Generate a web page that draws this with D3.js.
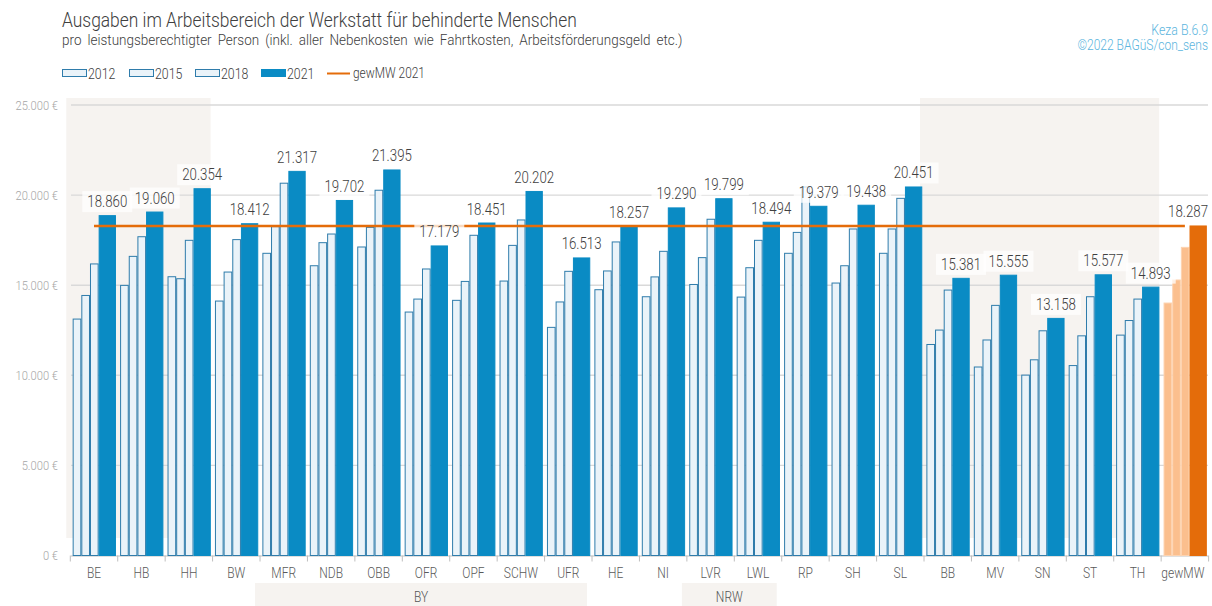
<!DOCTYPE html>
<html>
<head>
<meta charset="utf-8">
<script src="https://cdn.jsdelivr.net/npm/d3@7"></script>
<style>
  body { margin: 0; background: #fff; }
  svg text { font-family: Roboto, "Liberation Sans", sans-serif; font-weight: 300; }
</style>
</head>
<body>
<div id="graph"></div>
<script>
// data
var categories = ["BE","HB","HH","BW","MFR","NDB","OBB","OFR","OPF","SCHW","UFR","HE","NI","LVR","LWL","RP","SH","SL","BB","MV","SN","ST","TH","gewMW"];
var years = ["2012","2015","2018","2021"];
var v2012 = [13120,14990,15470,14120,16770,16080,17120,13510,14160,15230,12660,14750,14360,15040,14340,16770,15120,16770,11710,10460,10010,10540,12230,14010];
var v2015 = [14430,16600,15360,15730,18250,17360,18210,14230,15210,17210,14070,15790,15460,16530,15970,17930,16080,18120,12510,11960,10860,12190,13040,15290];
var v2018 = [16180,17690,17490,17530,20660,17840,20270,15900,17770,18620,15770,17400,16880,18660,17490,20450,18120,19820,14730,13880,12470,14360,14230,17100];
var v2021 = [18860,19060,20354,18412,21317,19702,21395,17179,18451,20202,16513,18257,19290,19799,18494,19379,19438,20451,15381,15555,13158,15577,14893,18287];
var mean2021 = 18287;
var meanLabel = "gewMW 2021";
var yTicks = [0, 5000, 10000, 15000, 20000, 25000];
var shadeGroups = [["BE","HH"], ["BB","TH"]];
var regionGroups = [
  { label: "BY",  from: "MFR", to: "UFR" },
  { label: "NRW", from: "LVR", to: "LWL" }
];

var W = 1212, H = 606;
var svg = d3.select("#graph").append("svg")
  .attr("width", W).attr("height", H);

var de = d3.formatLocale({ decimal: ",", thousands: ".", grouping: [3], currency: ["", " €"] });
var fmt = de.format(",d");

// squeeze text horizontally (the original uses a condensed font)
function condense(sel, k) {
  sel.each(function() {
    var t = d3.select(this);
    var x0 = +t.attr("x") || 0;
    t.attr("x", 0).attr("transform", `translate(${x0},0) scale(${k},1)`);
  });
}

// scales
var x = d3.scaleBand().domain(categories).range([70.3, 1208.6]);
var y = d3.scaleLinear().domain([0, 25000]).range([555.5, 105]);
var step = x.step();
var inner = step * 0.913;
var off = (step - inner) / 2 + 0.3;
var unit = inner / 5;
var slotStart = [0, 1, 2, 3], slotWidth = [1, 1, 1, 2];
var series = [v2012, v2015, v2018, v2021];

// shaded backgrounds
svg.append("g").selectAll("rect")
  .data(shadeGroups)
  .enter().append("rect")
    .attr("x", d => x(d[0]) - 4)
    .attr("y", 98)
    .attr("width", d => x(d[1]) + step - x(d[0]) + 2)
    .attr("height", 440)
    .attr("fill", "#f6f3f0");

// region boxes at bottom
var regG = svg.append("g").selectAll("g")
  .data(regionGroups)
  .enter().append("g");
regG.append("rect")
  .attr("x", d => x(d.from) - 5)
  .attr("y", 583)
  .attr("width", d => x(d.to) + step - x(d.from))
  .attr("height", 23)
  .attr("fill", "#f6f3f0");
regG.append("text")
  .attr("x", d => x(d.from) - 5 + (x(d.to) + step - x(d.from)) / 2)
  .attr("y", 602)
  .attr("text-anchor", "middle")
  .style("font-size", "15px")
  .attr("fill", "#555")
  .text(d => d.label)
  .call(condense, 0.8);

// grid + y axis
svg.append("g").selectAll("line")
  .data(yTicks.filter(t => t > 0))
  .enter().append("line")
    .attr("x1", 71).attr("x2", 1208)
    .attr("y1", d => y(d)).attr("y2", d => y(d))
    .attr("stroke", "#d9d9d9").attr("stroke-width", 1.4);

var yAxisG = svg.append("g")
  .attr("transform", "translate(60,0)")
  .call(d3.axisLeft(y).tickValues(yTicks).tickSize(0).tickFormat(d => fmt(d) + " €"));
yAxisG.select(".domain").remove();
yAxisG.selectAll("text")
  .attr("x", -2)
  .style("font-size", "13px")
  .attr("fill", "#a6a6a6")
  .call(condense, 0.86);

// x axis baseline, separators, labels
svg.append("line")
  .attr("x1", 71).attr("x2", 1208)
  .attr("y1", y(0) + 0.5).attr("y2", y(0) + 0.5)
  .attr("stroke", "#bfbfbf").attr("stroke-width", 1.2);
svg.append("g").selectAll("line")
  .data(categories.concat(["end"]))
  .enter().append("line")
    .attr("x1", d => d === "end" ? x.range()[1] : x(d))
    .attr("x2", d => d === "end" ? x.range()[1] : x(d))
    .attr("y1", y(0)).attr("y2", y(0) + 6)
    .attr("stroke", "#bfbfbf");
var xAxisG = svg.append("g")
  .attr("transform", `translate(0, ${y(0)})`)
  .call(d3.axisBottom(x).tickSize(0));
xAxisG.select(".domain").remove();
xAxisG.selectAll("text")
  .attr("y", 12)
  .attr("x", d => d === "gewMW" ? -2 : 0)
  .style("font-size", "15px")
  .style("font-family", null)
  .attr("fill", "#595959")
  .call(condense, 0.8);

// bars
var isMean = c => c === "gewMW";
series.forEach(function(vals, si) {
  svg.append("g").selectAll("rect")
    .data(categories.map((c, i) => ({ c: c, v: vals[i] })))
    .enter().append("rect")
      .attr("x", d => x(d.c) + off + slotStart[si] * unit + 0.5)
      .attr("y", d => y(d.v))
      .attr("width", slotWidth[si] * unit - 1)
      .attr("height", d => y(0) - y(d.v))
      .attr("fill", d => isMean(d.c) ? (si === 3 ? "#e46c0a" : "#fbbf8e")
                                     : (si === 3 ? "#0a8bc4" : "#eaf3f9"))
      .attr("stroke", d => isMean(d.c) ? (si === 3 ? "#e46c0a" : "#fdd3b0")
                                       : (si === 3 ? "#0a8bc4" : "#2f7cab"))
      .attr("stroke-width", 1);
});

// mean line
svg.append("line")
  .attr("x1", x(categories[0]) + step / 2)
  .attr("x2", x(categories[categories.length - 1]) + step / 2)
  .attr("y1", y(mean2021)).attr("y2", y(mean2021))
  .attr("stroke", "#e46c0a").attr("stroke-width", 2.5);

// value labels for 2021: boxes first, then texts
var labels = categories.map((c, i) => ({ c: c, v: v2021[i] }));
var boxG = svg.append("g");
var txtG = svg.append("g");
var kLab = 0.78;
labels.forEach(function(d) {
  var cx = x(d.c) + off + 3 * unit + unit;
  var base = y(d.v) - 8.5;
  var t = txtG.append("text")
    .attr("y", base)
    .attr("text-anchor", "middle")
    .style("font-size", "17px")
    .attr("fill", "#404040")
    .text(fmt(d.v));
  var w = t.node().getComputedTextLength() * kLab;
  if (cx + w / 2 > 1208) cx = 1208 - w / 2;
  t.attr("x", cx).call(condense, kLab);
  boxG.append("rect")
    .attr("x", cx - w / 2 - 5)
    .attr("y", base - 16)
    .attr("width", w + 10)
    .attr("height", 21)
    .attr("fill", "#fff")
    .attr("fill-opacity", 0.75);
});

// titles
svg.append("text")
  .attr("x", 62).attr("y", 27)
  .style("font-size", "20px")
  .attr("fill", "#404040")
  .text("Ausgaben im Arbeitsbereich der Werkstatt für behinderte Menschen")
  .call(condense, 0.87);
svg.append("text")
  .attr("x", 62).attr("y", 45)
  .style("font-size", "15px")
  .style("word-spacing", "3px")
  .attr("fill", "#404040")
  .text("pro leistungsberechtigter Person (inkl. aller Nebenkosten wie Fahrtkosten, Arbeitsförderungsgeld etc.)")
  .call(condense, 0.9);
svg.append("text")
  .attr("x", 1208).attr("y", 35)
  .attr("text-anchor", "end")
  .style("font-size", "14px")
  .attr("fill", "#5bb5de")
  .text("Keza B.6.9")
  .call(condense, 0.88);
svg.append("text")
  .attr("x", 1208).attr("y", 50)
  .attr("text-anchor", "end")
  .style("font-size", "14px")
  .attr("fill", "#5bb5de")
  .text("©2022 BAGüS/con_sens")
  .call(condense, 0.86);

// legend
var legX = [62, 129, 195, 261];
var leg = svg.append("g").selectAll("g")
  .data(years)
  .enter().append("g")
    .attr("transform", (d, i) => `translate(${legX[i]}, 69)`);
leg.append("rect")
  .attr("x", 0.5).attr("y", 0.5)
  .attr("width", 24).attr("height", 7)
  .attr("fill", (d, i) => i === 3 ? "#0a8bc4" : "#eaf3f9")
  .attr("stroke", (d, i) => i === 3 ? "#0a8bc4" : "#2f7cab");
leg.append("text")
  .attr("x", 26).attr("y", 9.5)
  .style("font-size", "14px")
  .attr("fill", "#404040")
  .text(d => d)
  .call(condense, 0.88);
svg.append("line")
  .attr("x1", 327).attr("x2", 350)
  .attr("y1", 73.5).attr("y2", 73.5)
  .attr("stroke", "#e46c0a").attr("stroke-width", 2);
svg.append("text")
  .attr("x", 353).attr("y", 78.5)
  .style("font-size", "14px")
  .attr("fill", "#404040")
  .text(meanLabel)
  .call(condense, 0.85);
</script>
</body>
</html>
